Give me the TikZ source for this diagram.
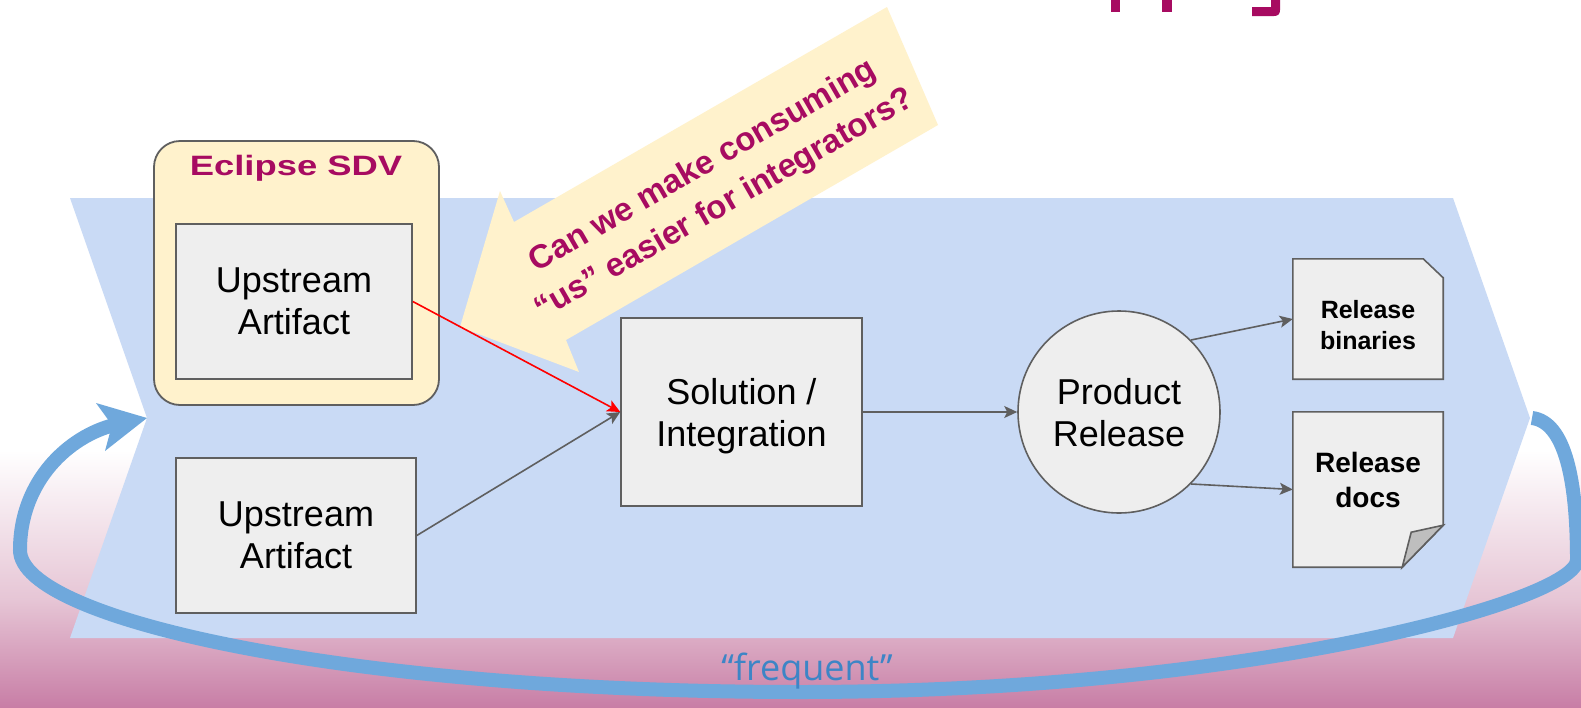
\documentclass[tikz,border=0pt]{standalone}
\usepackage{fontspec}
\setmainfont{Liberation Sans}
\newfontfamily\loopfont{Open Sans}
\usetikzlibrary{arrows.meta}
\definecolor{bandblue}{RGB}{201,218,245}
\definecolor{notefill}{RGB}{255,242,204}
\definecolor{boxfill}{RGB}{238,238,238}
\definecolor{edgegray}{RGB}{95,95,95}
\definecolor{brand}{RGB}{167,11,97}
\definecolor{loopblue}{RGB}{111,168,220}
\definecolor{looptext}{RGB}{61,133,198}
\definecolor{pinkmid}{RGB}{230,197,213}
\definecolor{pinkbot}{RGB}{200,126,166}
\definecolor{foldgray}{RGB}{190,190,190}
\definecolor{alertred}{RGB}{255,0,0}
\tikzset{
  box/.style={draw=edgegray, line width=1.6pt, fill=boxfill, inner sep=0pt,
    align=center, font=\fontsize{36}{42}\selectfont, text depth=0pt},
  docframe/.style={inner sep=0pt},
  docedge/.style={draw=edgegray, line width=1.6pt, fill=boxfill, line join=miter},
  doclabel/.style={align=center, font=\bfseries\fontsize{25}{31}\selectfont},
  flow/.style={draw=edgegray, line width=1.6pt,
    -{Stealth[length=13pt,width=12pt,inset=3pt]}},
  hotflow/.style={draw=alertred, line width=1.6pt,
    -{Stealth[length=13pt,width=12pt,inset=3pt]}},
}
\begin{document}
\begin{tikzpicture}[x=1pt,y=-1pt]
\useasboundingbox (0,0) rectangle (1581,707);

% page background: white fading into pink at the bottom
\fill[white] (0,0) rectangle (1581,707);
\shade[top color=white, bottom color=pinkmid] (0,450) rectangle (1581,601);
\shade[top color=pinkmid, bottom color=pinkbot] (0,600) rectangle (1581,707);

% descenders of the slide title above
\fill[brand] (1111,0) rectangle (1120,12);
\fill[brand] (1162,0) rectangle (1172,12);
\fill[brand] (1271,0) -- (1280,0) -- (1280,10)
  .. controls (1280,14) and (1278,16) .. (1274,16) -- (1252,16) -- (1252,7)
  -- (1271,7) -- cycle;

% pipeline band
\fill[bandblue] (70,198) -- (1453,198) -- (1530,418) -- (1453,638)
  -- (70,638) -- (147,418) -- cycle;

% Eclipse SDV container
\node[draw=edgegray, line width=1.8pt, fill=notefill, rounded corners=26pt,
  minimum width=285pt, minimum height=264pt, inner sep=0pt] (sdv) at (296.5,273) {};
\node[font=\bfseries\fontsize{28}{28}\selectfont, text=brand, xscale=1.3]
  (sdvtitle) at (296,168) {Eclipse SDV};

\node[box, minimum width=236pt, minimum height=155pt] (up1) at (294,301.5) {Upstream\\Artifact};
\node[box, minimum width=240pt, minimum height=155pt] (up2) at (296,535.5) {Upstream\\Artifact};

% callout arrow with the question
\fill[notefill] (887,7) -- (938,125) -- (566,340) -- (579,372) -- (460,327)
  -- (500,191) -- (514,222) -- cycle;
\node[rotate=30, align=center, text=brand,
  font=\bfseries\fontsize{33}{44}\selectfont] (ask) at (714,186)
  {Can we make consuming\\“us” easier for integrators?};

\node[box, minimum width=241pt, minimum height=188pt] (sol) at (741.5,412) {Solution /\\Integration};
\node[box, circle, minimum size=202pt] (rel) at (1119,412) {Product\\Release};

% release outputs
\node[docframe, minimum width=150pt, minimum height=120pt] (bin) at (1368,319) {};
\draw[docedge] (bin.north west) -- ([xshift=-20pt]bin.north east)
  -- ([yshift=-19pt]bin.north east) -- (bin.south east) -- (bin.south west) -- cycle;
\node[doclabel] (binlbl) at (1368,325.5) {Release\\binaries};

\node[docframe, minimum width=150pt, minimum height=155pt] (docs) at (1368,489.5) {};
\draw[docedge] (docs.north west) -- (docs.north east)
  -- ([yshift=42pt]docs.south east) -- ([xshift=-41pt]docs.south east)
  -- (docs.south west) -- cycle;
\draw[docedge, fill=foldgray] ([yshift=42pt]docs.south east)
  -- ([xshift=-32pt,yshift=35pt]docs.south east) -- ([xshift=-41pt]docs.south east) -- cycle;
\node[doclabel, font=\bfseries\fontsize{28}{35}\selectfont] (docslbl) at (1368,479.5) {Release\\docs};

% flow connectors
\draw[hotflow] (up1.east) -- (sol.west);
\draw[flow] (up2.east) -- (sol.west);
\draw[flow] (sol.east) -- (rel.west);
\draw[flow] (rel.45) -- (bin.west);
\draw[flow] (rel.-45) -- (docs.west);

% feedback loop: thick stroke plus a wide arrow head at the band notch
\coordinate (loopstart) at (1532,418);
\coordinate (loopend) at (114,425);
\coordinate (notch) at (147,418);
\draw[loopblue, line width=14pt]
  (loopstart) .. controls (1565,422) and (1577,480) .. (1577,560)
  .. controls (1577,600) and (1250,692) .. (800,692)
  .. controls (350,692) and (20,620) .. (20,550)
  .. controls (20,480) and (70,436) .. (loopend);
\fill[loopblue] (notch) -- (96,403) -- (112,425) -- (105,451) -- cycle;
\node[anchor=base, text=looptext, font=\loopfont\fontsize{36}{36}\selectfont]
  (freq) at (807,680) {“frequent”};
\end{tikzpicture}
\end{document}
